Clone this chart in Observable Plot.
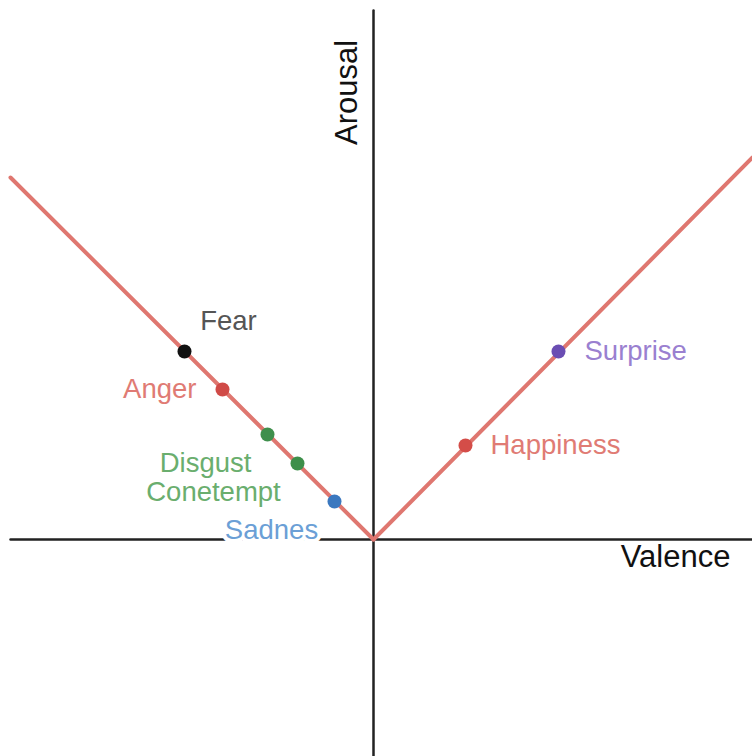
<!DOCTYPE html>
<html>
<head>
<meta charset="utf-8">
<script src="https://cdn.jsdelivr.net/npm/d3@7"></script>
<script src="https://cdn.jsdelivr.net/npm/@observablehq/plot@0.6"></script>
<style>
  html, body { margin: 0; padding: 0; background: #fff; }
  #chart svg { display: block; }
</style>
</head>
<body>
<div id="chart"></div>
<script>
// Emotions placed on the valence–arousal plane
const emotions = ["Fear", "Anger", "Disgust", "Conetempt", "Sadnes", "Happiness", "Surprise"];
const valence  = [-1.89, -1.51, -1.06, -0.76, -0.39, 0.92, 1.85];
const arousal  = [ 1.88,  1.50,  1.05,  0.76,  0.38, 0.94, 1.88];
const dotColors   = ["#111111", "#d04a47", "#3f8f4c", "#3d8f4a", "#3b78bf", "#d44d48", "#6a4db3"];
const labelColors = ["#555555", "#e07b74", "#6aae6e", "#6aae6e", "#6b9fd6", "#e07b74", "#9a80d0"];

// V-shaped guide: arousal grows with |valence|
const guideLeft  = [{v: -3.63, a: 3.62}, {v: 0, a: 0}];
const guideRight = [{v: 0, a: 0}, {v: 3.79, a: 3.82}];

// Axis extents
const valenceAxis = [{v: -3.63, a: 0}, {v: 3.79, a: 0}];
const arousalAxis = [{v: 0, a: 5.29}, {v: 0, a: -2.17}];
const axisTitles = [
  {name: "Valence", v: 3.02, a: 0, rotate: 0},
  {name: "Arousal", v: 0, a: 4.47, rotate: -90}
];

const points = emotions.map((name, i) => ({
  name, v: valence[i], a: arousal[i], dot: dotColors[i], label: labelColors[i]
}));

// Label placement relative to each dot
const labelOffsets = {
  Fear:      {dx: 44,  dy: -30, anchor: "middle"},
  Anger:     {dx: -26, dy: 0,   anchor: "end"},
  Disgust:   {dx: -62, dy: 29,  anchor: "middle"},
  Conetempt: {dx: -84, dy: 29,  anchor: "middle"},
  Sadnes:    {dx: -63, dy: 29,  anchor: "middle"},
  Happiness: {dx: 25,  dy: 0,   anchor: "start"},
  Surprise:  {dx: 26,  dy: 0,   anchor: "start"}
};

const font = "Liberation Sans, Arial, Helvetica, sans-serif";

const labelMarks = points.map(p => {
  const o = labelOffsets[p.name];
  const halo = p.name === "Sadnes";
  return Plot.text([p], {
    x: "v", y: "a", text: "name",
    dx: o.dx, dy: o.dy, textAnchor: o.anchor,
    fill: p.label, fontSize: 27.5, fontFamily: font,
    stroke: halo ? "white" : undefined,
    strokeWidth: halo ? 8 : undefined
  });
});

const chart = Plot.plot({
  width: 752,
  height: 756,
  margin: 0,
  x: {domain: [-3.73, 3.79], range: [0, 752], axis: null},
  y: {domain: [-2.17, 5.39], range: [756, 0], axis: null},
  style: {background: "#fff", fontFamily: font},
  marks: [
    Plot.line(valenceAxis, {x: "v", y: "a", stroke: "#222", strokeWidth: 2.5}),
    Plot.line(arousalAxis, {x: "v", y: "a", stroke: "#222", strokeWidth: 2.5}),
    Plot.line(guideLeft,  {x: "v", y: "a", stroke: "#df7770", strokeWidth: 4}),
    Plot.line(guideRight, {x: "v", y: "a", stroke: "#df7770", strokeWidth: 4}),
    ...labelMarks,
    Plot.dot(points, {x: "v", y: "a", r: 7, fill: d => d.dot, stroke: "none"}),
    Plot.text(axisTitles.filter(d => d.rotate === 0), {
      x: "v", y: "a", text: "name", dy: 18, fontSize: 31, fill: "#111", fontFamily: font
    }),
    Plot.text(axisTitles.filter(d => d.rotate !== 0), {
      x: "v", y: "a", text: "name", dx: -26, rotate: -90, fontSize: 31, fill: "#111", fontFamily: font
    })
  ]
});

document.getElementById("chart").appendChild(chart);
</script>
</body>
</html>
